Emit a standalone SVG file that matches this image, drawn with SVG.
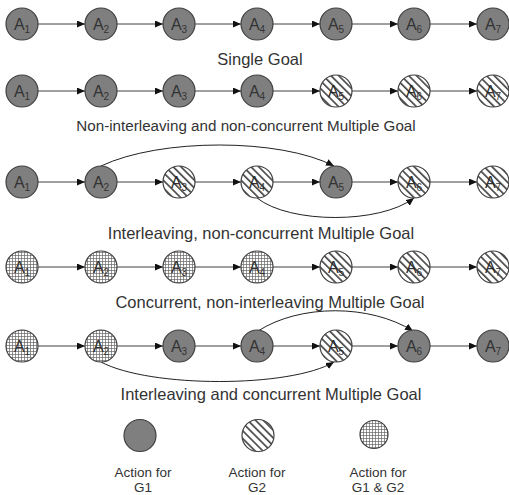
<svg xmlns="http://www.w3.org/2000/svg" width="509" height="495" viewBox="0 0 509 495">
<style>
  .g1 { fill: #7f7f7f; stroke: #404040; stroke-width: 1.2; }
  .bg { fill: #ffffff; stroke: none; }
  .g2 { fill: url(#hatch); stroke: #404040; stroke-width: 1.2; }
  .g2l { fill: url(#hatchw); stroke: #404040; stroke-width: 1.2; }
  .g12 { fill: url(#grid); stroke: #404040; stroke-width: 1.2; }
  .lbl { font-family: "Liberation Sans", Arial, sans-serif; font-size: 16px; fill: #333; text-anchor: middle; }
  .sub { font-size: 10px; }
  .cap { font-family: "Liberation Sans", Arial, sans-serif; font-size: 16.5px; fill: #333; text-anchor: middle; }
  .leg { font-family: "Liberation Sans", Arial, sans-serif; font-size: 13.5px; fill: #333; text-anchor: middle; }
  .edge { fill: none; stroke: #404040; stroke-width: 1; marker-end: url(#arr); }
  .curve { fill: none; stroke: #222; stroke-width: 1; marker-end: url(#arr); }
</style>
<defs>
  <pattern id="hatch" patternUnits="userSpaceOnUse" width="5.5" height="5.5" patternTransform="rotate(45)">
    <line x1="0" y1="1" x2="5.5" y2="1" stroke="#222" stroke-width="1.4"/>
  </pattern>
  <pattern id="hatchw" patternUnits="userSpaceOnUse" width="5.5" height="5.5" patternTransform="rotate(45)">
    <rect width="5.5" height="5.5" fill="#ffffff"/>
    <line x1="0" y1="1" x2="5.5" y2="1" stroke="#222" stroke-width="1.4"/>
  </pattern>
  <pattern id="grid" patternUnits="userSpaceOnUse" width="3" height="3">
    <rect width="3" height="3" fill="#ffffff"/>
    <path d="M0,0.5 H3 M0.5,0 V3" stroke="#666" stroke-width="0.7" fill="none"/>
  </pattern>
  <marker id="arr" markerUnits="userSpaceOnUse" markerWidth="9" markerHeight="8" refX="8" refY="3.5" orient="auto">
    <path d="M0,0 L8,3.5 L0,7 z" fill="#111"/>
  </marker>
</defs>

<g id="connectors">
  <line class="edge" x1="38" y1="24" x2="85" y2="24"/>
  <line class="edge" x1="117" y1="24" x2="163" y2="24"/>
  <line class="edge" x1="195" y1="24" x2="241" y2="24"/>
  <line class="edge" x1="273" y1="24" x2="320" y2="24"/>
  <line class="edge" x1="352" y1="24" x2="398" y2="24"/>
  <line class="edge" x1="430" y1="24" x2="477" y2="24"/>
  <line class="edge" x1="38" y1="91" x2="85" y2="91"/>
  <line class="edge" x1="117" y1="91" x2="163" y2="91"/>
  <line class="edge" x1="195" y1="91" x2="241" y2="91"/>
  <line class="edge" x1="273" y1="91" x2="320" y2="91"/>
  <line class="edge" x1="352" y1="91" x2="398" y2="91"/>
  <line class="edge" x1="430" y1="91" x2="477" y2="91"/>
  <line class="edge" x1="38" y1="182" x2="85" y2="182"/>
  <line class="edge" x1="117" y1="182" x2="163" y2="182"/>
  <line class="edge" x1="195" y1="182" x2="241" y2="182"/>
  <line class="edge" x1="273" y1="182" x2="320" y2="182"/>
  <line class="edge" x1="352" y1="182" x2="398" y2="182"/>
  <line class="edge" x1="430" y1="182" x2="477" y2="182"/>
  <path class="curve" d="M101,166 C160,138 280,138 334,166"/>
  <path class="curve" d="M257,198 C290,224 380,224 414,198"/>
  <line class="edge" x1="38" y1="267" x2="85" y2="267"/>
  <line class="edge" x1="117" y1="267" x2="163" y2="267"/>
  <line class="edge" x1="195" y1="267" x2="241" y2="267"/>
  <line class="edge" x1="273" y1="267" x2="320" y2="267"/>
  <line class="edge" x1="352" y1="267" x2="398" y2="267"/>
  <line class="edge" x1="430" y1="267" x2="477" y2="267"/>
  <line class="edge" x1="38" y1="346" x2="85" y2="346"/>
  <line class="edge" x1="117" y1="346" x2="163" y2="346"/>
  <line class="edge" x1="195" y1="346" x2="241" y2="346"/>
  <line class="edge" x1="273" y1="346" x2="320" y2="346"/>
  <line class="edge" x1="352" y1="346" x2="398" y2="346"/>
  <line class="edge" x1="430" y1="346" x2="477" y2="346"/>
  <path class="curve" d="M258,331 C300,304 370,304 413,331"/>
  <path class="curve" d="M101,362 C150,388 290,388 334,362"/>
</g>

<g id="r1a1"><circle class="g1" cx="22" cy="24" r="16"/><text class="lbl" x="22" y="30">A<tspan class="sub" dy="3">1</tspan></text></g>
<g id="r1a2"><circle class="g1" cx="101" cy="24" r="16"/><text class="lbl" x="101" y="30">A<tspan class="sub" dy="3">2</tspan></text></g>
<g id="r1a3"><circle class="g1" cx="179" cy="24" r="16"/><text class="lbl" x="179" y="30">A<tspan class="sub" dy="3">3</tspan></text></g>
<g id="r1a4"><circle class="g1" cx="257" cy="24" r="16"/><text class="lbl" x="257" y="30">A<tspan class="sub" dy="3">4</tspan></text></g>
<g id="r1a5"><circle class="g1" cx="336" cy="24" r="16"/><text class="lbl" x="336" y="30">A<tspan class="sub" dy="3">5</tspan></text></g>
<g id="r1a6"><circle class="g1" cx="414" cy="24" r="16"/><text class="lbl" x="414" y="30">A<tspan class="sub" dy="3">6</tspan></text></g>
<g id="r1a7"><circle class="g1" cx="493" cy="24" r="16"/><text class="lbl" x="493" y="30">A<tspan class="sub" dy="3">7</tspan></text></g>
<text class="cap" x="260" y="65">Single Goal</text>

<g id="r2a1"><circle class="g1" cx="22" cy="91" r="16"/><text class="lbl" x="22" y="97">A<tspan class="sub" dy="3">1</tspan></text></g>
<g id="r2a2"><circle class="g1" cx="101" cy="91" r="16"/><text class="lbl" x="101" y="97">A<tspan class="sub" dy="3">2</tspan></text></g>
<g id="r2a3"><circle class="g1" cx="179" cy="91" r="16"/><text class="lbl" x="179" y="97">A<tspan class="sub" dy="3">3</tspan></text></g>
<g id="r2a4"><circle class="g1" cx="257" cy="91" r="16"/><text class="lbl" x="257" y="97">A<tspan class="sub" dy="3">4</tspan></text></g>
<g id="r2a5"><circle class="bg" cx="336" cy="91" r="16"/><text class="lbl" x="336" y="97">A<tspan class="sub" dy="3">5</tspan></text><circle class="g2" cx="336" cy="91" r="16"/></g>
<g id="r2a6"><circle class="bg" cx="414" cy="91" r="16"/><text class="lbl" x="414" y="97">A<tspan class="sub" dy="3">6</tspan></text><circle class="g2" cx="414" cy="91" r="16"/></g>
<g id="r2a7"><circle class="bg" cx="493" cy="91" r="16"/><text class="lbl" x="493" y="97">A<tspan class="sub" dy="3">7</tspan></text><circle class="g2" cx="493" cy="91" r="16"/></g>
<text class="cap" x="246" y="131" style="font-size:15.2px">Non-interleaving and non-concurrent Multiple Goal</text>

<g id="r3a1"><circle class="g1" cx="22" cy="182" r="16"/><text class="lbl" x="22" y="188">A<tspan class="sub" dy="3">1</tspan></text></g>
<g id="r3a2"><circle class="g1" cx="101" cy="182" r="16"/><text class="lbl" x="101" y="188">A<tspan class="sub" dy="3">2</tspan></text></g>
<g id="r3a3"><circle class="bg" cx="179" cy="182" r="16"/><text class="lbl" x="179" y="188">A<tspan class="sub" dy="3">3</tspan></text><circle class="g2" cx="179" cy="182" r="16"/></g>
<g id="r3a4"><circle class="bg" cx="257" cy="182" r="16"/><text class="lbl" x="257" y="188">A<tspan class="sub" dy="3">4</tspan></text><circle class="g2" cx="257" cy="182" r="16"/></g>
<g id="r3a5"><circle class="g1" cx="336" cy="182" r="16"/><text class="lbl" x="336" y="188">A<tspan class="sub" dy="3">5</tspan></text></g>
<g id="r3a6"><circle class="bg" cx="414" cy="182" r="16"/><text class="lbl" x="414" y="188">A<tspan class="sub" dy="3">6</tspan></text><circle class="g2" cx="414" cy="182" r="16"/></g>
<g id="r3a7"><circle class="bg" cx="493" cy="182" r="16"/><text class="lbl" x="493" y="188">A<tspan class="sub" dy="3">7</tspan></text><circle class="g2" cx="493" cy="182" r="16"/></g>
<text class="cap" x="261" y="239">Interleaving, non-concurrent Multiple Goal</text>

<g id="r4a1"><circle class="g12" cx="22" cy="267" r="16"/><text class="lbl" x="22" y="273">A<tspan class="sub" dy="3">1</tspan></text></g>
<g id="r4a2"><circle class="g12" cx="101" cy="267" r="16"/><text class="lbl" x="101" y="273">A<tspan class="sub" dy="3">2</tspan></text></g>
<g id="r4a3"><circle class="g12" cx="179" cy="267" r="16"/><text class="lbl" x="179" y="273">A<tspan class="sub" dy="3">3</tspan></text></g>
<g id="r4a4"><circle class="g12" cx="257" cy="267" r="16"/><text class="lbl" x="257" y="273">A<tspan class="sub" dy="3">4</tspan></text></g>
<g id="r4a5"><circle class="bg" cx="336" cy="267" r="16"/><text class="lbl" x="336" y="273">A<tspan class="sub" dy="3">5</tspan></text><circle class="g2" cx="336" cy="267" r="16"/></g>
<g id="r4a6"><circle class="bg" cx="414" cy="267" r="16"/><text class="lbl" x="414" y="273">A<tspan class="sub" dy="3">6</tspan></text><circle class="g2" cx="414" cy="267" r="16"/></g>
<g id="r4a7"><circle class="bg" cx="493" cy="267" r="16"/><text class="lbl" x="493" y="273">A<tspan class="sub" dy="3">7</tspan></text><circle class="g2" cx="493" cy="267" r="16"/></g>
<text class="cap" x="270" y="308">Concurrent, non-interleaving Multiple Goal</text>

<g id="r5a1"><circle class="g12" cx="22" cy="346" r="16"/><text class="lbl" x="22" y="352">A<tspan class="sub" dy="3">1</tspan></text></g>
<g id="r5a2"><circle class="g12" cx="101" cy="346" r="16"/><text class="lbl" x="101" y="352">A<tspan class="sub" dy="3">2</tspan></text></g>
<g id="r5a3"><circle class="g1" cx="179" cy="346" r="16"/><text class="lbl" x="179" y="352">A<tspan class="sub" dy="3">3</tspan></text></g>
<g id="r5a4"><circle class="g1" cx="257" cy="346" r="16"/><text class="lbl" x="257" y="352">A<tspan class="sub" dy="3">4</tspan></text></g>
<g id="r5a5"><circle class="bg" cx="336" cy="346" r="16"/><text class="lbl" x="336" y="352">A<tspan class="sub" dy="3">5</tspan></text><circle class="g2" cx="336" cy="346" r="16"/></g>
<g id="r5a6"><circle class="g1" cx="414" cy="346" r="16"/><text class="lbl" x="414" y="352">A<tspan class="sub" dy="3">6</tspan></text></g>
<g id="r5a7"><circle class="g1" cx="493" cy="346" r="16"/><text class="lbl" x="493" y="352">A<tspan class="sub" dy="3">7</tspan></text></g>
<text class="cap" x="271" y="400">Interleaving and concurrent Multiple Goal</text>

<g id="legend-g1"><circle class="g1" cx="140" cy="435.5" r="16"/><text class="leg" x="143" y="477">Action for</text><text class="leg" x="143" y="492">G1</text></g>
<g id="legend-g2"><circle class="g2l" cx="258" cy="435.5" r="16"/><text class="leg" x="257" y="477">Action for</text><text class="leg" x="257" y="492">G2</text></g>
<g id="legend-g12"><circle class="g12" cx="374" cy="434.5" r="14"/><text class="leg" x="378" y="477">Action for</text><text class="leg" x="378" y="492">G1 &amp; G2</text></g>
</svg>
